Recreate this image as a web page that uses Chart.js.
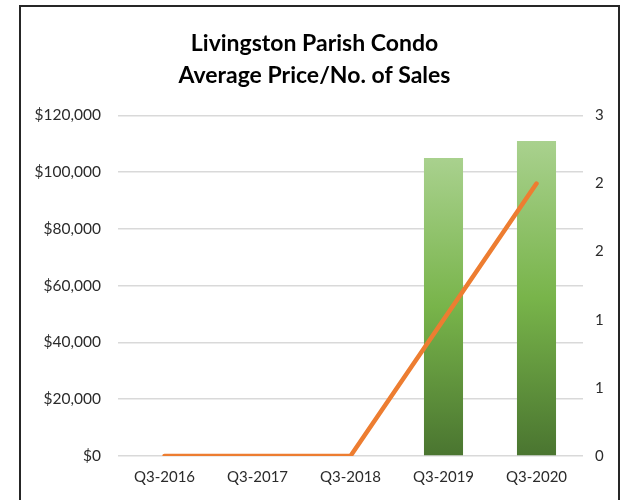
<!DOCTYPE html>
<html>
<head>
<meta charset="utf-8">
<script src="https://cdn.jsdelivr.net/npm/chart.js@4/dist/chart.umd.min.js"></script>
<style>
  body { margin: 0; background: #fff; }
  #wrap { position: relative; width: 629px; height: 500px; overflow: hidden; }
  #frame { position: absolute; left: 19px; top: 5px; width: 597px; height: 520px; border: 2px solid #262626; }
  canvas { position: absolute; left: 0; top: 0; }
</style>
</head>
<body>
<div id="wrap">
  <div id="frame"></div>
  <canvas id="myChart" width="629" height="500"></canvas>
</div>
<script>
'use strict';
// chart data
var quarters = ['Q3-2016', 'Q3-2017', 'Q3-2018', 'Q3-2019', 'Q3-2020'];
var avgPrice = [0, 0, 0, 105000, 111000];
var numSales = [0, 0, 0, 1, 2];
var titleLines = ['Livingston Parish Condo', 'Average Price/No. of Sales'];

var fontName = 'Lato, "Open Sans", sans-serif';
var tickColor = '#2b2b2b';

// each bar gets its own light-to-dark green fade
function barGradient(context) {
  var chart = context.chart;
  if (!chart.chartArea || context.parsed === undefined) {
    return '#70ad47';
  }
  var yScale = chart.scales.y;
  var top = yScale.getPixelForValue(context.parsed.y);
  var base = yScale.getPixelForValue(0);
  if (!(base > top)) {
    return '#70ad47';
  }
  var g = chart.ctx.createLinearGradient(0, top, 0, base);
  g.addColorStop(0, '#a9d18e');
  g.addColorStop(0.5, '#78b44a');
  g.addColorStop(1, '#4a7530');
  return g;
}

var ctx = document.getElementById('myChart').getContext('2d');
var chart = new Chart(ctx, {
  type: 'bar',
  data: {
    labels: quarters,
    datasets: [{
      type: 'line',
      label: 'No. of Sales',
      data: numSales,
      yAxisID: 'y1',
      borderColor: '#ed7d31',
      borderWidth: 4.5,
      borderCapStyle: 'round',
      borderJoinStyle: 'round',
      pointRadius: 0,
      tension: 0,
      order: 0
    },
    {
      label: 'Average Price',
      data: avgPrice,
      yAxisID: 'y',
      backgroundColor: barGradient,
      categoryPercentage: 1,
      barPercentage: 0.42,
      order: 1
    }]
  },
  options: {
    responsive: false,
    animation: false,
    layout: { padding: { left: 0, right: 0, top: 0, bottom: 0 } },
    plugins: {
      legend: { display: false },
      tooltip: { enabled: false },
      title: {
        display: true,
        text: titleLines,
        color: '#000',
        font: { family: fontName, size: 23, weight: 'bold', lineHeight: 1.4 },
        padding: { top: 27, bottom: 24 }
      }
    },
    scales: {
      x: {
        grid: { display: false, drawTicks: false },
        border: { display: false },
        ticks: { color: tickColor, font: { family: fontName, size: 15 }, padding: 12, maxRotation: 0 },
        afterFit: function (scale) { scale.height = 44; }
      },
      y: {
        position: 'left',
        min: 0,
        max: 120000,
        grid: { color: '#d9d9d9', lineWidth: 1.5, drawTicks: false },
        border: { display: false },
        ticks: {
          stepSize: 20000,
          color: tickColor,
          padding: 17,
          font: { family: fontName, size: 15.5 },
          callback: function (v) { return '$' + v.toLocaleString('en-US'); }
        },
        afterFit: function (scale) { scale.width = 118; }
      },
      y1: {
        position: 'right',
        min: 0,
        max: 2.5,
        grid: { display: false, drawTicks: false },
        border: { display: false },
        ticks: {
          stepSize: 0.5,
          color: tickColor,
          padding: 12,
          font: { family: fontName, size: 15 },
          callback: function (v) { return Math.round(v); }
        },
        afterFit: function (scale) { scale.width = 46; }
      }
    }
  }
});
</script>
</body>
</html>
